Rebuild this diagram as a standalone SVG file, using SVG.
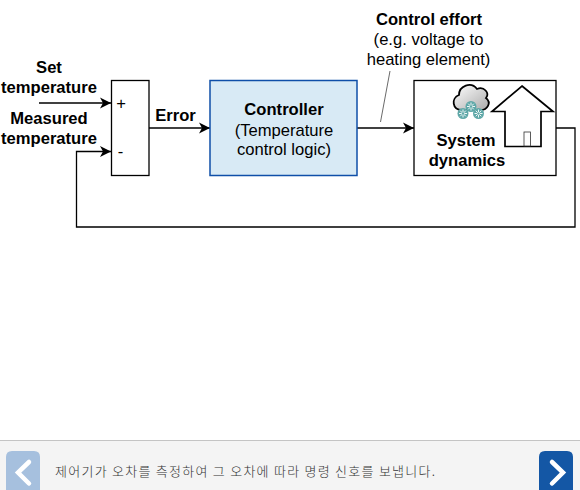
<svg xmlns="http://www.w3.org/2000/svg" width="580" height="490" viewBox="0 0 580 490">
<defs>
<marker id="arr" markerUnits="userSpaceOnUse" markerWidth="12" markerHeight="12" refX="11" refY="6" orient="auto"><path d="M0,0.5 L11,6 L0,11.5 L3,6 Z" fill="#000"/></marker>
<linearGradient id="cloud" x1="0" y1="0" x2="1" y2="1"><stop offset="0" stop-color="#fff"/><stop offset="1" stop-color="#aaa"/></linearGradient>
<g id="flake"><circle r="5.500" fill="#5fa8a8"/><path d="M-4,0H4M0,-4V4M-2.800,-2.800L2.800,2.800M-2.800,2.800L2.800,-2.800" stroke="#fff" stroke-width="0.900"/><circle r="1.200" fill="#5fa8a8"/></g>
</defs>
<style>
text{font-family:"Liberation Sans",Arial,sans-serif;font-size:16.6px;fill:#000;text-anchor:middle}
.b{font-weight:bold}
.box{fill:#fff;stroke:#000;stroke-width:1.3}
.c{fill:none;stroke:#000;stroke-width:1.3}
.a{marker-end:url(#arr)}
</style>
<rect width="580" height="490" fill="#fff"/>
<g id="connectors">
<path class="c a" d="M39,103H111"/>
<path class="c a" d="M149,128H210"/>
<path class="c a" d="M357,128H414"/>
<path class="c a" d="M556,128H575V227H76.500V151.500H111"/>
<path d="M390,71L380.500,122" fill="none" stroke="#444" stroke-width="0.800"/>
</g>
<g id="sum">
<rect class="box" x="111.500" y="80.500" width="37.500" height="95"/>
<text x="121" y="108.500">+</text>
<text x="120.500" y="157">-</text>
</g>
<g id="controller">
<rect x="210" y="80.500" width="147" height="95" fill="#d8eaf5" stroke="#0f4fa8" stroke-width="1.500"/>
<text class="b" x="284" y="115">Controller</text>
<text x="284" y="136">(Temperature</text>
<text x="284" y="155">control logic)</text>
</g>
<g id="system">
<rect class="box" x="414" y="80.500" width="142" height="95"/>
<path d="M462,110C452,110 451,98 459,95C459,86 471,81 477,89C484,86 490,93 486,98C492,103 487,110 481,110Z" fill="url(#cloud)" stroke="#000" stroke-width="1.800"/>
<use href="#flake" x="471" y="106.500"/>
<use href="#flake" x="463" y="113.500"/>
<use href="#flake" x="478.500" y="113.500"/>
<path d="M522,86L553,111.500H541V146.500H505V111.500H492Z" fill="#fff" stroke="#000" stroke-width="1.700"/>
<rect x="524" y="132" width="6.500" height="14" fill="#fff" stroke="#333" stroke-width="0.800"/>
<text class="b" x="466" y="146">System</text>
<text class="b" x="467" y="166">dynamics</text>
</g>
<g id="labels">
<text class="b" x="49" y="73">Set</text>
<text class="b" x="49" y="93">temperature</text>
<text class="b" x="49" y="124">Measured</text>
<text class="b" x="49" y="144">temperature</text>
<text class="b" x="175.500" y="121">Error</text>
<text class="b" x="429" y="25">Control effort</text>
<text x="428.500" y="45">(e.g. voltage to</text>
<text x="428.500" y="65">heating element)</text>
</g>
<g id="footer">
<rect y="440.500" width="580" height="49.500" fill="#f4f4f4"/>
<path d="M0,440.500H580" stroke="#c4c4c4" stroke-width="1"/>
<path d="M6,490V457Q6,451 12,451H34Q40,451 40,457V490Z" fill="#a6c0de"/>
<path d="M29,462L18,472.500L29,483.500" fill="none" stroke="#fff" stroke-width="4.500" stroke-linecap="round"/>
<path d="M539,490V457Q539,451 545,451H567Q573,451 573,457V490Z" fill="#1457a5"/>
<path d="M552,462L563,472.500L552,483.500" fill="none" stroke="#fff" stroke-width="4.500" stroke-linecap="round"/>
<text x="55" y="476" style="font-family:'Noto Sans CJK KR','Liberation Sans',sans-serif;font-size:13px;font-weight:300;letter-spacing:1.260px;text-anchor:start;fill:#333">제어기가 오차를 측정하여 그 오차에 따라 명령 신호를 보냅니다.</text>
</g>
</svg>
